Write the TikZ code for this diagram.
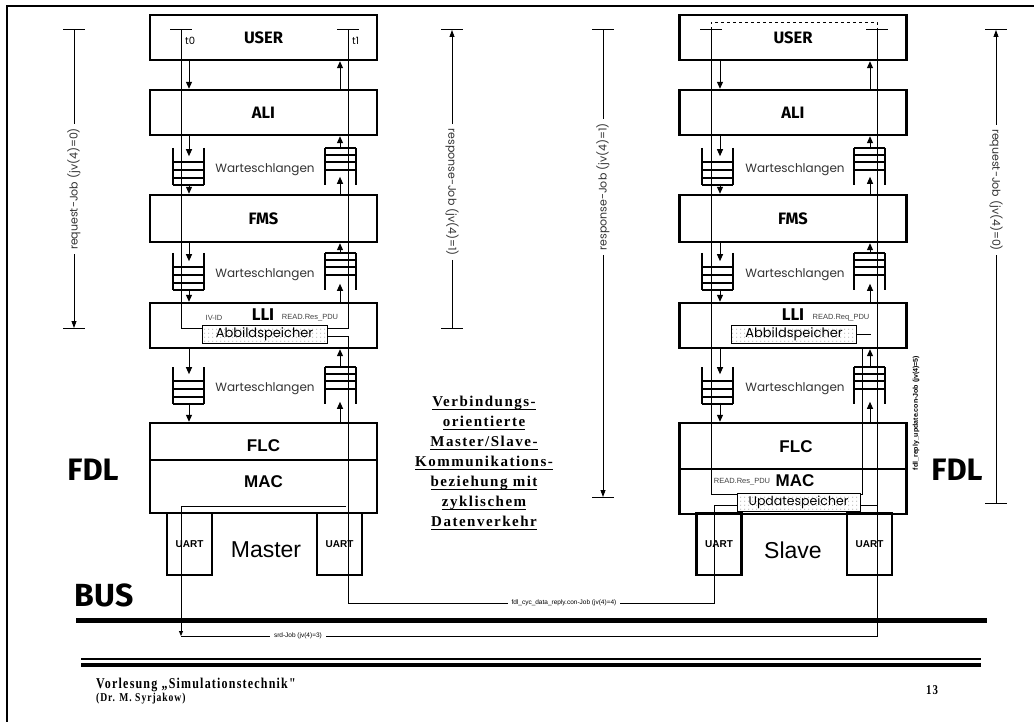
\documentclass[tikz,border=0pt]{standalone}
\usepackage{fontspec}
\setmainfont{Liberation Sans}
\newfontfamily\gillfont{Fira Sans}
\newfontfamily\thinfont{Poppins}
\newfontfamily\slidefont[LetterSpace=10]{Liberation Serif}
\newfontfamily\footfont[FakeStretch=0.8,LetterSpace=8]{Liberation Serif}
\usetikzlibrary{arrows.meta,patterns.meta,calc}

% underlined line of the slide text
\newsavebox\ulbox
\newcommand\ulbar[1]{\sbox\ulbox{#1}\rlap{\rule[-3.5pt]{\wd\ulbox}{1.3pt}}\usebox\ulbox}

\tikzdeclarepattern{
  name=speicherdots,
  type=uncolored,
  bounding box={(0pt,0pt) and (4pt,4pt)},
  tile size={(4pt,4pt)},
  code={\pgfpathcircle{\pgfpoint{1pt}{1pt}}{0.5pt}\pgfusepath{fill}}
}

\tikzset{
  layer/.style={draw, line width=2.4pt, minimum width=227pt, inner sep=0pt,
    font=\gillfont\bfseries\fontsize{16.5}{16.5}\selectfont},
  sublabel/.style={inner sep=0pt, font=\bfseries\fontsize{17}{17}\selectfont},
  uart/.style={draw, line width=2.4pt, minimum width=45pt, minimum height=62pt,
    inner sep=0pt, font=\bfseries\fontsize{10}{10}\selectfont},
  memory/.style={draw, line width=0.8pt, pattern=speicherdots, pattern color=black!60,
    minimum width=125pt, minimum height=18pt, inner sep=0pt,
    font=\thinfont\fontsize{13}{13}\selectfont},
  flow/.style={line width=1pt, -{Triangle[length=7pt,width=6pt]}},
  dimarrow/.style={line width=0.8pt, -{Triangle[length=7pt,width=5pt]}},
  wire/.style={line width=0.8pt},
  tick/.style={line width=1pt},
  queue/.style={line width=1.1pt},
  qlabel/.style={font=\thinfont\fontsize{12}{12}\selectfont, text=black!80},
  dimlabel/.style={font=\thinfont\fontsize{11}{11}\selectfont, text=black!80,
    inner xsep=4pt, inner ysep=0pt},
  buslabel/.style={font=\fontsize{6.5}{6.5}\selectfont, fill=white,
    inner xsep=4pt, inner ysep=1pt},
  tiny/.style={font=\fontsize{7.5}{7.5}\selectfont, text=black!75, inner sep=0pt},
  bigname/.style={font=\gillfont\bfseries\fontsize{31}{31}\selectfont, inner sep=0pt},
}

\begin{document}
\begin{tikzpicture}[x=1pt, y=-1pt]
\useasboundingbox (0,0) rectangle (1034,722);

% Frame
\draw[line width=2pt] (7,722) -- (7,6) -- (1034,6);

% Master stack
\node[layer, minimum height=45pt] (mUSER) at (263.5,37.5) {USER};
\node[layer, minimum height=45pt] (mALI) at (263.5,112.5) {ALI};
\node[layer, minimum height=47pt] (mFMS) at (263.5,218.5) {FMS};
\node[layer, minimum height=45pt] (mLLI) at (263.5,325.5) {};
\node[layer, minimum height=37pt] (mFLC) at (263.5,441.5) {};
\node[layer, minimum height=53pt] (mMAC) at (263.5,486.5) {};
\node[uart] (mUARTl) at (189.5,544) {UART};
\node[uart] (mUARTr) at (339.5,544) {UART};

\node[sublabel] (mFLCt) at (263.5,446) {FLC};
\node[sublabel] (mMACt) at (263.5,482) {MAC};
\node[bigname, font=\gillfont\bfseries\fontsize{17}{17}\selectfont] (mLLIt) at (263,315) {LLI};
\node[tiny] (mIVID) at (214,318) {IV-ID};
\node[tiny] (mREAD) at (310,318) {READ.Res\_PDU};
\node[memory] (mAbb) at (264.5,334) {Abbildspeicher};
\node[font=\fontsize{23}{23}\selectfont, inner sep=0pt] (master) at (266,550) {Master};
\node[bigname] (mFDL) at (93,470) {FDL};

% Slave stack
\node[layer, minimum height=45pt] (sUSER) at (793,37.5) {USER};
\node[layer, minimum height=45pt] (sALI) at (793,112.5) {ALI};
\node[layer, minimum height=47pt] (sFMS) at (793,218.5) {FMS};
\node[layer, minimum height=45pt] (sLLI) at (793,325.5) {};
\node[layer, minimum height=46pt] (sFLC) at (793,446) {};
\node[layer, minimum height=45pt] (sMAC) at (793,491.5) {};
\node[uart] (sUARTl) at (719,544) {UART};
\node[uart] (sUARTr) at (869.5,544) {UART};

\node[sublabel] (sFLCt) at (796,447) {FLC};
\node[sublabel] (sMACt) at (795,481) {MAC};
\node[bigname, font=\gillfont\bfseries\fontsize{17}{17}\selectfont] (sLLIt) at (793,315) {LLI};
\node[tiny] (sREADq) at (841,318) {READ.Req\_PDU};
\node[tiny] (sREADs) at (742,482) {READ.Res\_PDU};
\node[memory] (sAbb) at (794,334.5) {Abbildspeicher};
\node[memory, minimum width=123pt, font=\thinfont\fontsize{12.5}{12.5}\selectfont] (sUpd) at (798.5,502) {Updatespeicher};
\node[font=\fontsize{23}{23}\selectfont, inner sep=0pt] (slave) at (793,550) {Slave};
\node[bigname] (sFDL) at (957,470) {FDL};

% Queues: left ones fill from the top, right ones from the bottom
\foreach \qx/\qt in {173/148, 173/253, 173/367, 702/148, 702/253, 702/367}{
  \draw[queue] (\qx,\qt) -- (\qx,\qt+37) (\qx+31,\qt) -- (\qx+31,\qt+37);
  \foreach \dy in {14,22,30,37}
    \draw[queue] (\qx,\qt+\dy) -- (\qx+31,\qt+\dy);
}
\foreach \qx/\qt in {325/148, 325/253, 325/367, 854/148, 854/253, 854/367}{
  \draw[queue] (\qx,\qt) -- (\qx,\qt+37) (\qx+31,\qt) -- (\qx+31,\qt+37);
  \foreach \dy in {0,7,14,22}
    \draw[queue] (\qx,\qt+\dy) -- (\qx+31,\qt+\dy);
}
\foreach \wx/\wy [count=\i] in {265/170, 265/275, 265/389, 795/170, 795/275, 795/389}
  \node[qlabel] (wq\i) at (\wx,\wy) {Warteschlangen};

% Arrows between the layers
\coordinate (mDn) at (189,0); \coordinate (mUp) at (340,0);
\coordinate (sDn) at (720,0); \coordinate (sUp) at (870,0);
\foreach \stk/\dcol/\ucol in {m/mDn/mUp, s/sDn/sUp}{
  % downwards
  \draw[flow] (\dcol |- \stk USER.south) -- (\dcol |- \stk ALI.north);
  \draw[flow] (\dcol |- \stk ALI.south) -- ++(0,20);
  \draw[flow] ($(\dcol |- \stk FMS.north)+(0,-10)$) -- (\dcol |- \stk FMS.north);
  \draw[flow] (\dcol |- \stk FMS.south) -- ++(0,18);
  \draw[flow] ($(\dcol |- \stk LLI.north)+(0,-11)$) -- (\dcol |- \stk LLI.north);
  \draw[flow] (\dcol |- \stk LLI.south) -- ++(0,25);
  \draw[flow] ($(\dcol |- \stk FLC.north)+(0,-19)$) -- (\dcol |- \stk FLC.north);
  % upwards
  \draw[flow] (\ucol |- \stk ALI.north) -- (\ucol |- \stk USER.south);
  \draw[flow] ($(\ucol |- \stk ALI.south)+(0,13)$) -- (\ucol |- \stk ALI.south);
  \draw[flow] (\ucol |- \stk FMS.north) -- ++(0,-17);
  \draw[flow] ($(\ucol |- \stk FMS.south)+(0,11)$) -- (\ucol |- \stk FMS.south);
  \draw[flow] (\ucol |- \stk LLI.north) -- ++(0,-18);
  \draw[flow] ($(\ucol |- \stk LLI.south)+(0,19)$) -- (\ucol |- \stk LLI.south);
  \draw[flow] (\ucol |- \stk FLC.north) -- ++(0,-20);
}

% Time marks
\coordinate (mT0) at (181,30); \coordinate (mT1) at (348,30);
\coordinate (sT0) at (711,30); \coordinate (sT1) at (877,30);
\foreach \c in {mT0,mT1,sT0,sT1}
  \draw[tick] ([xshift=-11pt]\c) -- ([xshift=11pt]\c);
\node[font=\thinfont\fontsize{10}{10}\selectfont, anchor=west, inner sep=0pt] (t0) at (185,41) {t0};
\node[font=\thinfont\fontsize{10}{10}\selectfont, anchor=west, inner sep=0pt] (t1) at (352,41) {t1};
\draw[wire, dashed] (sT0) -- ++(0,-8) -| (sT1);

% Master paths
\draw[wire] (mT0) |- ([yshift=6pt]mAbb.west);
\draw[wire] (mT1) |- ([yshift=6pt]mAbb.east);
\coordinate (cycL) at (348,603); \coordinate (cycR) at (714,603);
\draw[wire] ([yshift=-2pt]mAbb.east) -| (cycL)
  -- node[buslabel, pos=0.59] (cycLbl) {fdl\_cyc\_data\_reply.con-Job (jv(4)=4)} (cycR)
  |- ([yshift=-3pt]sUpd.west);
\coordinate (mMacA) at (181,506); \coordinate (mMacB) at (346,506);
\coordinate (srdL) at (181,636); \coordinate (srdR) at (877,636);
\draw[wire] (mMacB) -- (mMacA);
\draw[wire, -{Triangle[length=5pt,width=4pt]}] (mMacA) -- (srdL);
\draw[wire] (srdL) -- node[buslabel, pos=0.168] (srdLbl) {srd-Job (jv(4)=3)} (srdR) -- (sT1);

% Slave paths
\coordinate (sRet) at (862,0);
\draw[wire] (sT0) |- ([yshift=8pt]sUpd.west);
\draw[wire] ([yshift=-3pt]sUpd.east) -| (sT1);
\draw[wire] ([yshift=8pt]sUpd.east) -| (sLLI.south -| sRet);
\draw[wire] (sAbb.east) -- ++(14,0);
\node[rotate=90, inner sep=0pt, font=\bfseries\fontsize{7}{7}\selectfont] (sUpdLbl) at (916,413) {fdl\_reply\_update.con-Job (jv(4)=5)};

% Job spans
\coordinate (mReqTop) at (74,30);  \coordinate (mReqBot) at (74,328);
\coordinate (mResTop) at (452,30); \coordinate (mResBot) at (452,328);
\coordinate (sResTop) at (603,30); \coordinate (sResBot) at (603,497);
\coordinate (sReqTop) at (996,30); \coordinate (sReqBot) at (996,503);
\node[dimlabel, rotate=90] (mReq) at (74,189) {request-Job (jv(4)=0)};
\node[dimlabel, rotate=-90] (mRes) at (452,192) {response-Job (jv(4)=1)};
\node[dimlabel, rotate=90] (sRes) at (603,187) {response-Job (jv(4)=1)};
\node[dimlabel, rotate=-90] (sReq) at (996,190) {request-Job (jv(4)=0)};
\draw[wire] (mReqTop) -- (mReq.east);
\draw[dimarrow] (mReq.west) -- (mReqBot);
\draw[dimarrow] (mRes.west) -- (mResTop);
\draw[wire] (mRes.east) -- (mResBot);
\draw[wire] (sResTop) -- (sRes.east);
\draw[dimarrow] (sRes.west) -- (sResBot);
\draw[dimarrow] (sReq.west) -- (sReqTop);
\draw[wire] (sReq.east) -- (sReqBot);
\foreach \c in {mReqTop,mReqBot,mResTop,mResBot,sResTop,sResBot,sReqTop,sReqBot}
  \draw[tick] ([xshift=-11pt]\c) -- ([xshift=11pt]\c);

% Bus
\node[bigname, font=\gillfont\bfseries\fontsize{32}{32}\selectfont] (bus) at (104,595) {BUS};
\draw[line width=5pt] (76,620) -- (987,620);

% Slide text
\node[font=\slidefont\bfseries\fontsize{15}{20}\selectfont, align=center, inner sep=0pt] (topic) at (484,463)
  {\ulbar{Verbindungs-}\\ \ulbar{orientierte}\\ \ulbar{Master/Slave-}\\ \ulbar{Kommunikations-}\\
   \ulbar{beziehung mit}\\ \ulbar{zyklischem}\\ \ulbar{Datenverkehr}};

% Footer
\draw[line width=1.3pt] (81,659) -- (981,659);
\draw[line width=4pt] (81,664.5) -- (981,664.5);
\node[font=\footfont\bfseries\fontsize{15}{15}\selectfont, anchor=base west, inner sep=0pt] (lecture) at (96,688) {Vorlesung „Simulationstechnik"};
\node[font=\footfont\bfseries\fontsize{12}{12}\selectfont, anchor=base west, inner sep=0pt] (author) at (96,701) {(Dr. M. Syrjakow)};
\node[font=\footfont\bfseries\fontsize{13.5}{13.5}\selectfont, inner sep=0pt] (page) at (932,690) {13};
\end{tikzpicture}
\end{document}
